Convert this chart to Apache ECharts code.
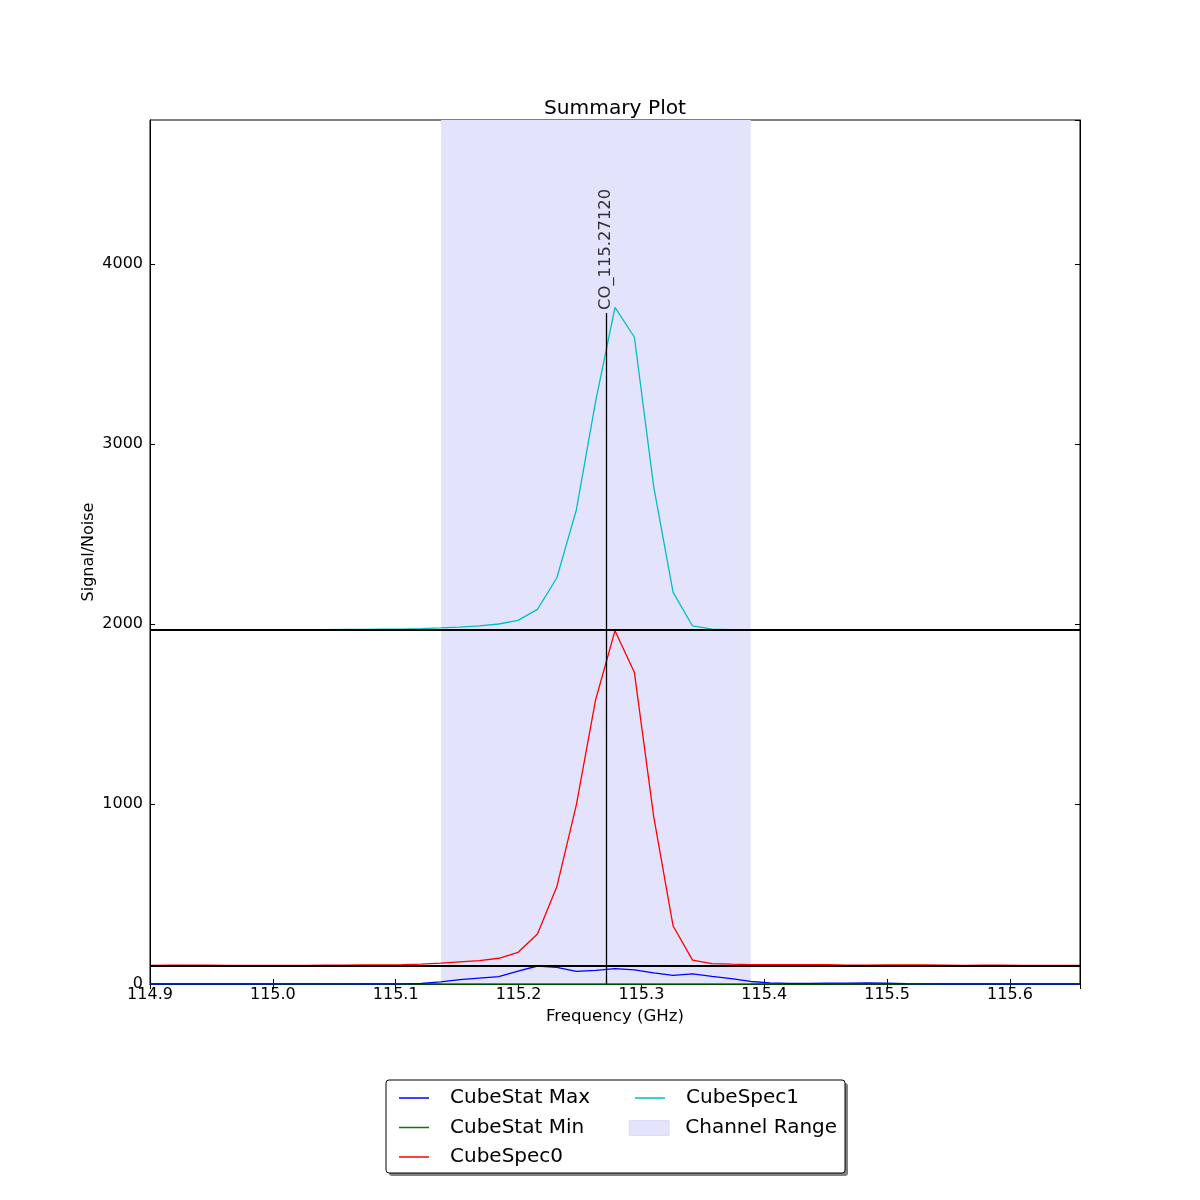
<!DOCTYPE html>
<html>
<head>
<meta charset="utf-8">
<script src="https://cdn.jsdelivr.net/npm/echarts@6/dist/echarts.min.js"></script>
<style>
  html, body { margin: 0; padding: 0; background: #fff; }
  #chart { width: 1200px; height: 1200px; }
</style>
</head>
<body>
<div id="chart"></div>
<script>
// ---- data ----
const freqs = [
  114.9000, 114.9158, 114.9315, 114.9473, 114.9631, 114.9789, 114.9946, 115.0104,
  115.0262, 115.0419, 115.0577, 115.0735, 115.0893, 115.1050, 115.1208, 115.1366,
  115.1523, 115.1681, 115.1839, 115.1996, 115.2154, 115.2312, 115.2470, 115.2627,
  115.2785, 115.2943, 115.3100, 115.3258, 115.3416, 115.3574, 115.3731, 115.3889,
  115.4047, 115.4204, 115.4362, 115.4520, 115.4677, 115.4835, 115.4993, 115.5151,
  115.5308, 115.5466, 115.5624, 115.5781, 115.5939, 115.6097, 115.6254, 115.6412,
  115.6570
];
const cubeStatMax = [
  0, 0, 0, 0, 0, 0, 0, 1, 1, 1, 1, 0, 0, 1, 4, 12,
  24, 33, 41, 72, 100, 92, 70, 76, 85, 78, 62, 48, 56, 42, 30, 14,
  6, 3, 4, 5, 5, 6, 5, 2, 1, 0, 0, 0, 0, 0, 0, 0,
  0
];
const cubeStatMin = [
  0, 0, 0, 0, 0, 0, 0, 0, 0, 0, 0, 0, 0, 0, 0, 0,
  0, 0, 0, 0, 0, 0, 0, 0, 0, 0, 0, 0, 0, 0, 0, 0,
  0, 0, 0, 0, 0, 0, 0, 0, 0, 0, 0, 0, 0, 0, 0, 0,
  0
];
const cubeSpec0 = [
  104, 105, 105, 105, 104, 104, 104, 104, 104, 105, 105, 106, 106, 107, 110, 116,
  123, 130, 143, 176, 278, 541, 994, 1578, 1963, 1730, 930, 322, 133, 113, 110, 108,
  107, 107, 108, 107, 105, 105, 106, 106, 106, 105, 104, 105, 105, 104, 104, 103,
  104
];
const cubeSpec1 = [
  1968, 1969, 1967, 1966, 1967, 1968, 1968, 1968, 1969, 1969, 1970, 1970, 1971, 1972, 1974, 1978,
  1983, 1990, 2000, 2020, 2081, 2257, 2633, 3235, 3759, 3593, 2763, 2176, 1989, 1972, 1969, 1968,
  1968, 1968, 1969, 1968, 1967, 1967, 1968, 1968, 1968, 1968, 1967, 1967, 1968, 1968, 1967, 1967,
  1966
];
const channelRange = [115.137, 115.389];
const lineFreq = 115.2712;
const lineName = 'CO_115.27120';
const lineTop = 3728;
const hLines = [1967, 100];
const xTicks = [114.9, 115.0, 115.1, 115.2, 115.3, 115.4, 115.5, 115.6];
const yTicks = [0, 1000, 2000, 3000, 4000];

const pair = arr => freqs.map((f, i) => [f, arr[i]]);
const FONT = 'DejaVu Sans';

const chart = echarts.init(document.getElementById('chart'), null, { renderer: 'canvas' });

const xLabelFmt = v => {
  const k = Math.round(v * 10);
  return xTicks.some(t => Math.abs(t - v) < 1e-6) ? (k / 10).toFixed(1) : '';
};
const yLabelFmt = v => yTicks.indexOf(v) >= 0 ? String(v) : '';

const lineSeries = (name, data, color) => ({
  name, type: 'line', data: pair(data), symbol: 'none', showSymbol: false,
  lineStyle: { color, width: 1.3 }, itemStyle: { color }, z: 3, animation: false
});

const legendText = { fontFamily: FONT, fontSize: 20, color: '#000', lineHeight: 22, padding: [0, 0, 0, 16] };
const legendCommon = {
  orient: 'vertical', itemWidth: 30, itemHeight: 1.5, itemGap: 7.5, padding: 0,
  selectedMode: false, icon: 'rect',
  textStyle: legendText
};

const option = {
  animation: false,
  backgroundColor: '#fff',
  title: {
    text: 'Summary Plot', left: 610, top: 94, textAlign: 'center',
    textStyle: { fontFamily: FONT, fontSize: 20.2, fontWeight: 'normal', color: '#000' }
  },
  grid: { left: 150, right: 120, top: 120, bottom: 216, show: true, borderColor: '#000', borderWidth: 1, backgroundColor: 'transparent' },
  xAxis: [{
    type: 'value', min: 114.9, max: 115.657, interval: 0.1,
    name: 'Frequency (GHz)', nameLocation: 'middle', nameGap: 21,
    nameTextStyle: { fontFamily: FONT, fontSize: 16.6, color: '#000' },
    axisLine: { show: true, onZero: false, lineStyle: { color: '#000', width: 1 } },
    axisTick: { show: true, inside: true, length: 5, lineStyle: { color: '#000' } },
    axisLabel: { formatter: xLabelFmt, fontFamily: FONT, fontSize: 16, color: '#000', margin: 3, showMaxLabel: false },
    splitLine: { show: false }
  }, {
    type: 'value', min: 114.9, max: 115.657, interval: 0.1, position: 'top',
    axisLine: { show: true, lineStyle: { color: '#000' } },
    axisTick: { show: true, inside: true, length: 5, lineStyle: { color: '#000' } },
    axisLabel: { show: false }, splitLine: { show: false }
  }],
  yAxis: [{
    type: 'value', min: 0, max: 4800, interval: 1000,
    name: 'Signal/Noise', nameLocation: 'middle', nameGap: 53, nameRotate: 90, nameMoveOverlap: false,
    nameTextStyle: { fontFamily: FONT, fontSize: 16, color: '#000' },
    axisLine: { show: true, onZero: false, lineStyle: { color: '#000' } },
    axisTick: { show: true, inside: true, length: 5, lineStyle: { color: '#000' } },
    axisLabel: { formatter: yLabelFmt, fontFamily: FONT, fontSize: 16, color: '#000', margin: 7, showMaxLabel: false },
    splitLine: { show: false }
  }, {
    type: 'value', min: 0, max: 4800, interval: 1000, position: 'right',
    axisLine: { show: true, lineStyle: { color: '#000' } },
    axisTick: { show: true, inside: true, length: 5, lineStyle: { color: '#000' } },
    axisLabel: { show: false }, splitLine: { show: false }
  }],
  legend: [
    Object.assign({}, legendCommon, {
      left: 399, top: 1087,
      data: ['CubeStat Max', 'CubeStat Min', 'CubeSpec0']
    }),
    Object.assign({}, legendCommon, {
      left: 635, top: 1087,
      data: ['CubeSpec1']
    }),
    Object.assign({}, legendCommon, {
      left: 629, top: 1117, itemWidth: 40, itemHeight: 15,
      textStyle: Object.assign({}, legendText, { padding: [0, 0, 0, 11] }),
      data: [{ name: 'Channel Range', icon: 'rect', itemStyle: { color: '#e3e3fb', borderWidth: 0.5, borderColor: '#c8c8e8' } }]
    })
  ],
  graphic: [
    { type: 'rect', z: 0, shape: { x: 389, y: 1083, width: 459, height: 93, r: 3 }, style: { fill: '#808080' } },
    { type: 'rect', z: 1, shape: { x: 386, y: 1080, width: 459, height: 93, r: 3 }, style: { fill: '#fff', stroke: '#000', lineWidth: 1 } }
  ],
  series: [
    {
      name: 'Channel Range', type: 'line', data: [], z: 1,
      itemStyle: { color: '#e3e3fb' },
      markArea: {
        silent: true,
        itemStyle: { color: '#e3e3fb' },
        data: [[{ xAxis: channelRange[0] }, { xAxis: channelRange[1] }]]
      }
    },
    lineSeries('CubeStat Max', cubeStatMax, '#0000ff'),
    Object.assign(lineSeries('CubeStat Min', cubeStatMin, '#007f00'), { z: 2 }),
    lineSeries('CubeSpec0', cubeSpec0, '#ff0000'),
    lineSeries('CubeSpec1', cubeSpec1, '#00bfbf'),
    {
      name: 'lines', type: 'line', data: [], z: 5,
      markLine: {
        silent: true, symbol: 'none', label: { show: false },
        lineStyle: { color: '#000', type: 'solid', width: 2 },
        data: hLines.map(v => ({ yAxis: v })).concat([
          [{ coord: [lineFreq, 0], lineStyle: { width: 1.3 } }, { coord: [lineFreq, lineTop] }]
        ])
      }
    },
    {
      name: 'lineLabel', type: 'scatter', data: [[lineFreq, lineTop]], symbolSize: 0, z: 6,
      label: {
        show: true, formatter: lineName, position: 'top', rotate: 90, distance: 5,
        align: 'left', verticalAlign: 'middle', offset: [-2, 0],
        fontFamily: FONT, fontSize: 16.4, color: '#000'
      }
    }
  ]
};
chart.setOption(option);
</script>
</body>
</html>
